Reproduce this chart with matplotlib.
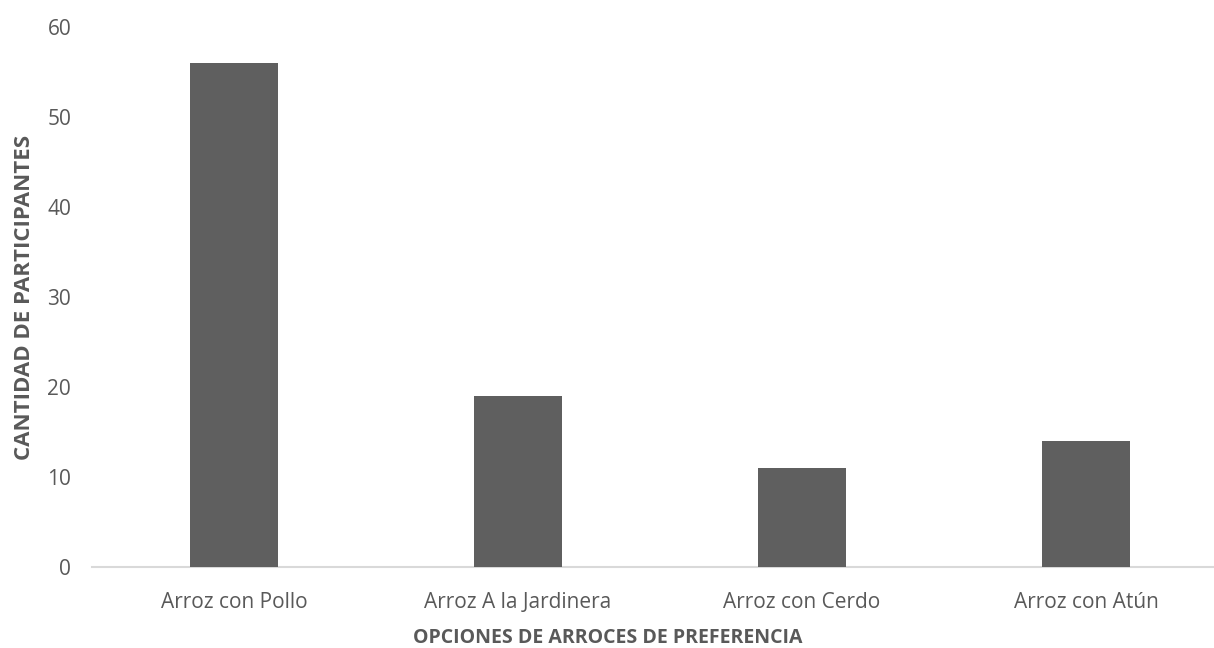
import matplotlib
matplotlib.use("Agg")
import matplotlib.pyplot as plt

categories = ["Arroz con Pollo", "Arroz A la Jardinera", "Arroz con Cerdo", "Arroz con Atún"]
values = [56, 19, 11, 14]
yticks = [0, 10, 20, 30, 40, 50, 60]

plt.rcParams['font.family'] = ['Open Sans', 'DejaVu Sans']
W, H = 1214, 648
fig = plt.figure(figsize=(W / 100, H / 100), dpi=100)
left, right, bottom, top = 92, 1214, 567, 27
ax = fig.add_axes([left / W, (H - bottom) / H, (right - left) / W, (bottom - top) / H])

x = list(range(len(categories)))
ax.bar(x, values, width=0.313, color="#5f5f5f", zorder=3)
ax.set_xlim(-0.5, -0.5 + (right - left) / 284)
ax.set_ylim(0, 60)
ax.set_yticks(yticks)
ax.set_xticks(x)
ax.set_xticklabels(categories)
for s in ["top", "right", "left"]:
    ax.spines[s].set_visible(False)
ax.spines["bottom"].set_color("#d9d9d9")
ax.spines["bottom"].set_linewidth(1.5)
ax.tick_params(axis="both", length=0, labelsize=15, labelcolor="#595959")
ax.tick_params(axis="x", pad=18)
ax.tick_params(axis="y", pad=15)

fig.text(608 / W, 1 - 638 / H, "OPCIONES DE ARROCES DE PREFERENCIA", ha="center", va="center",
         fontsize=14, fontweight="bold", color="#595959")
fig.text(25 / W, 1 - 297 / H, "CANTIDAD DE PARTICIPANTES", ha="center", va="center",
         rotation=90, fontsize=16, fontweight="bold", color="#595959")

fig.savefig("out.png", dpi=100, facecolor="white")
